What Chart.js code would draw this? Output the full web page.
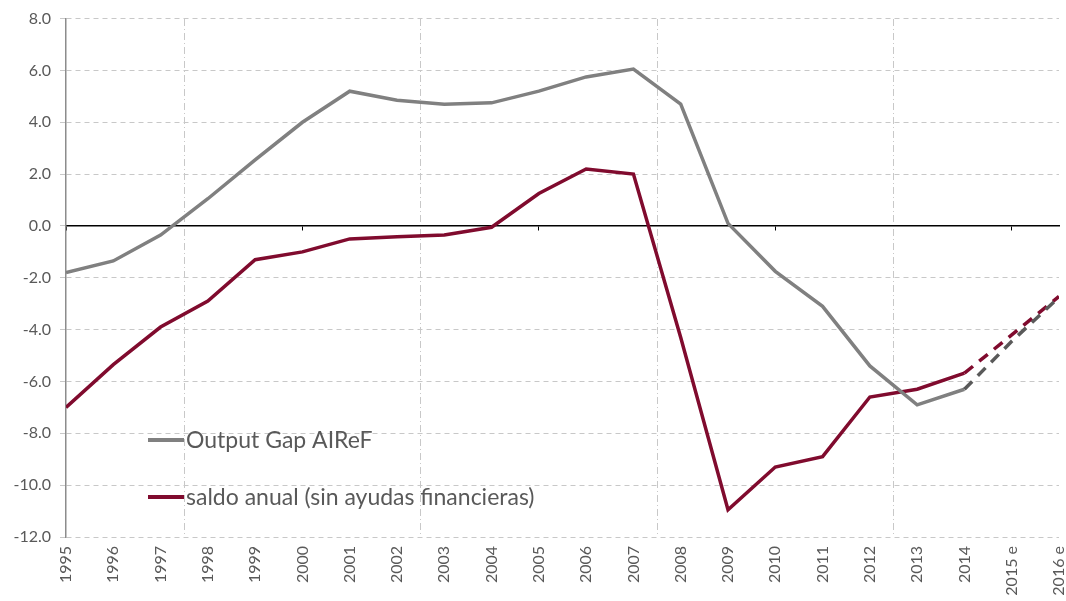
<!DOCTYPE html>
<html>
<head>
<meta charset="utf-8">
<script src="https://cdn.jsdelivr.net/npm/chart.js@4/dist/chart.umd.min.js"></script>
<style>
  html, body { margin: 0; padding: 0; background: #fff; }
  canvas { display: block; }
</style>
</head>
<body>
<canvas id="myChart" width="1066" height="601"></canvas>
<script>
// years on the x axis (2015 and 2016 are estimates)
const years = [1995, 1996, 1997, 1998, 1999, 2000, 2001, 2002, 2003, 2004, 2005,
  2006, 2007, 2008, 2009, 2010, 2011, 2012, 2013, 2014, 2015, 2016];
const estimateYears = [2015, 2016];
const outputGap = [-1.8, -1.35, -0.35, 1.05, 2.55, 4.0, 5.2, 4.85, 4.7, 4.75, 5.2,
  5.75, 6.05, 4.7, 0.1, -1.75, -3.1, -5.4, -6.9, -6.3, -4.45, -2.75];
const saldoAnual = [-7.0, -5.35, -3.9, -2.9, -1.3, -1.0, -0.5, -0.42, -0.35, -0.05, 1.25,
  2.2, 2.0, -4.3, -10.95, -9.3, -8.9, -6.6, -6.3, -5.68, -4.2, -2.72];
const seriesNames = ['Output Gap AIReF', 'saldo anual (sin ayudas financieras)'];
const axisTickYears = [1995, 2000, 2005, 2010, 2015];
const gridYears = [1997.5, 2002.5, 2007.5, 2012.5];

const textColor = '#595959';
const firstEstimate = years.indexOf(estimateYears[0]) - 1;

const toPoints = arr => years.map((x, i) => ({ x: x, y: arr[i] }));

// no extra side padding from the rotated labels
const noSidePad = s => { s.paddingLeft = 0; s.paddingRight = 0; };

// legend drawn inside the plot, lower left
const insideLegend = {
  id: 'insideLegend',
  afterDraw(chart) {
    const c = chart.ctx;
    const area = chart.chartArea;
    const x0 = area.left + 82;
    const rows = [440, 497];
    c.save();
    c.font = '23px Lato';
    c.textBaseline = 'middle';
    chart.data.datasets.forEach((ds, i) => {
      c.strokeStyle = ds.borderColor;
      c.lineWidth = 4;
      c.beginPath();
      c.moveTo(x0, rows[i]);
      c.lineTo(x0 + 36, rows[i]);
      c.stroke();
      c.fillStyle = textColor;
      c.fillText(ds.label, x0 + 38, rows[i] + 1);
    });
    c.restore();
  }
};

const ctx = document.getElementById('myChart').getContext('2d');
// eslint-disable-next-line no-unused-vars
const chart = new Chart(ctx, {
  type: 'line',
  data: {
    datasets: [{
      label: seriesNames[0],
      data: toPoints(outputGap),
      borderColor: '#808080',
      borderWidth: 3.5,
      pointRadius: 0,
      tension: 0,
      segment: {
        borderDash: s => s.p0DataIndex >= firstEstimate ? [11, 8] : undefined,
        borderColor: s => s.p0DataIndex >= firstEstimate ? '#5a5a5a' : undefined
      }
    }, {
      label: seriesNames[1],
      data: toPoints(saldoAnual),
      borderColor: '#800B2E',
      borderWidth: 3.5,
      pointRadius: 0,
      tension: 0,
      segment: {
        borderDash: s => s.p0DataIndex >= firstEstimate ? [11, 8] : undefined
      }
    }]
  },
  plugins: [insideLegend],
  options: {
    responsive: false,
    animation: false,
    layout: { padding: { top: 15, right: 7, left: 0, bottom: 0 } },
    plugins: {
      legend: { display: false },
      tooltip: { enabled: false }
    },
    scales: {
      x: {
        type: 'linear',
        position: 'bottom',
        min: years[0],
        max: years[years.length - 1],
        afterBuildTicks: s => { s.ticks = years.map(v => ({ value: v })); },
        afterFit: s => { s.height = 64; noSidePad(s); },
        grid: { display: false, drawTicks: false },
        border: { display: false },
        ticks: {
          autoSkip: false,
          minRotation: 90,
          maxRotation: 90,
          padding: 9,
          color: textColor,
          font: { family: 'Lato', size: 16 },
          callback: v => estimateYears.includes(v) ? v + ' e' : String(v)
        }
      },
      xgrid: {
        type: 'linear',
        axis: 'x',
        position: 'top',
        min: years[0],
        max: years[years.length - 1],
        afterBuildTicks: s => { s.ticks = gridYears.map(v => ({ value: v })); },
        afterFit: s => { s.height = 0; noSidePad(s); },
        grid: { color: '#c8c8c8', lineWidth: 1, drawTicks: false },
        border: { display: false, dash: [7, 3, 1, 3] },
        ticks: { display: false }
      },
      xzero: {
        type: 'linear',
        axis: 'x',
        position: { y: 0 },
        min: years[0],
        max: years[years.length - 1],
        afterBuildTicks: s => { s.ticks = axisTickYears.map(v => ({ value: v })); },
        afterFit: s => { s.height = 0; noSidePad(s); },
        grid: { drawOnChartArea: false, drawTicks: true, tickLength: 4, color: '#000' },
        border: { display: true, color: '#000', width: 1.5 },
        ticks: { display: false }
      },
      y: {
        min: -12,
        max: 8,
        afterFit: s => { s.width = 66; },
        ticks: {
          stepSize: 2,
          padding: 9,
          color: textColor,
          font: { family: 'Lato', size: 16 },
          callback: v => v.toFixed(1)
        },
        grid: { color: '#c8c8c8', lineWidth: 1, tickLength: 6, tickColor: '#c8c8c8' },
        border: { display: true, color: '#8c8c8c', width: 1.5, dash: [5, 4] }
      }
    }
  }
});
</script>
</body>
</html>
